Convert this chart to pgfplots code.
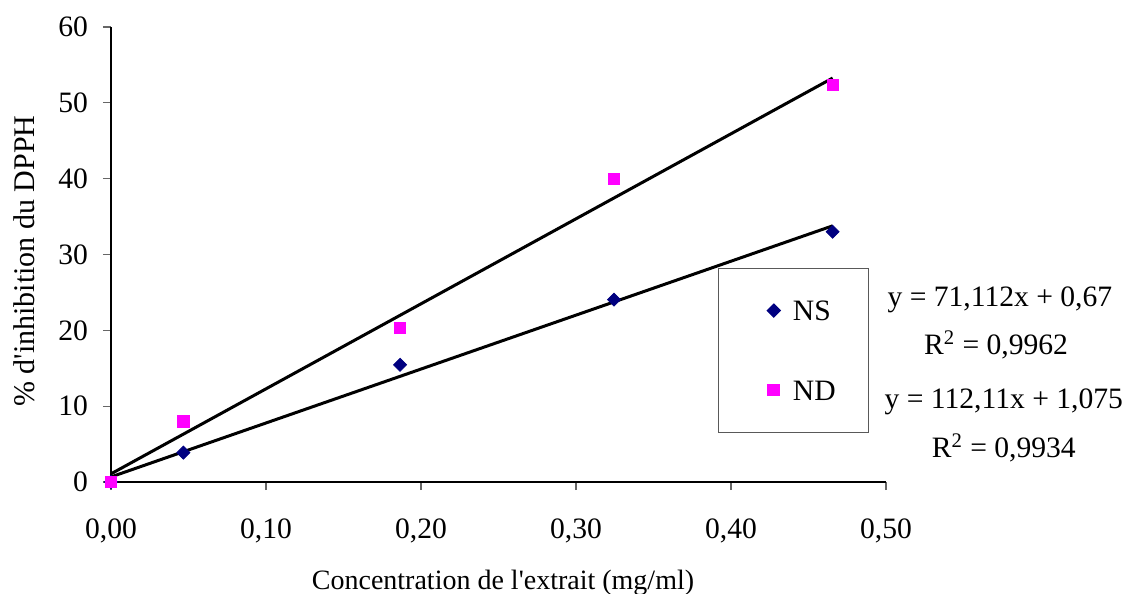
\documentclass[border=0pt]{standalone}
\usepackage{fontspec}
\setmainfont{Liberation Serif}
\usepackage{pgfplots}
\pgfplotsset{compat=1.18}
\definecolor{navyc}{HTML}{000080}
\definecolor{magc}{HTML}{FF00FF}
\newcommand{\fs}{\fontsize{14.8}{17.5}\selectfont}
\begin{document}
\begin{tikzpicture}
\useasboundingbox (-55.5pt,-56pt) rectangle (507.5pt,241pt);
\begin{axis}[
  at={(0,0)}, anchor=south west,
  scale only axis, width=387.5pt, height=227.5pt,
  xmin=0, xmax=0.5, ymin=0, ymax=60,
  clip=false,
  axis lines=left,
  axis line style={-, black, line width=0.6pt},
  tick align=outside, major tick length=4pt,
  tick style={black!60, line width=0.6pt},
  xtick={0,0.1,0.2,0.3,0.4,0.5},
  xticklabels={{0,00},{0,10},{0,20},{0,30},{0,40},{0,50}},
  ytick={0,10,20,30,40,50,60},
  yticklabels={0,10,20,30,40,50,60},
  ticklabel style={font=\fs},
  xticklabel style={anchor=base, yshift=-24pt},
  yticklabel style={anchor=east, xshift=-4pt},
  xlabel={Concentration de l\textquotesingle extrait (mg/ml)},
  xlabel style={at={(axis description cs:0.5,0)}, anchor=base, xshift=2.25pt, yshift=-53.5pt, font=\fontsize{14}{17}\selectfont},
  ylabel={\% d\textquotesingle inhibition du DPPH},
  ylabel style={at={(axis description cs:-0.1123,0.4857)}, anchor=center, font=\fontsize{15}{18}\selectfont},
  myleg/.style={legend image code/.code={\path (-10.8pt,0pt) (9.3pt,0pt); \draw[##1] plot coordinates {(0pt,0pt)};}},
  legend style={at={(0.7832,0.4703)}, anchor=north west, draw=black!65, line width=0.6pt,
    inner xsep=16.5pt, inner ysep=16pt, row sep=29.75pt,
    nodes={inner sep=0pt, text height=10pt, text depth=0pt, font=\fs},
    cells={anchor=west}},
]
\addplot[only marks, mark=square*, mark size=2.3pt, mark options={rotate=45, draw=navyc, fill=navyc}, myleg]
  coordinates {(0,0) (0.0467,3.87) (0.1865,15.46) (0.3245,24.05) (0.4656,33.0)};
\addlegendentry{NS}
\addplot[only marks, mark=square*, mark size=2.85pt, mark options={draw=magc, fill=magc}, myleg]
  coordinates {(0,0) (0.0467,7.97) (0.1865,20.3) (0.3245,40.0) (0.4656,52.4)};
\addlegendentry{ND}
\addplot[black, line width=1.5pt, forget plot] coordinates {(0,0.67) (0.4656,33.78)};
\addplot[black, line width=1.5pt, forget plot] coordinates {(0,1.075) (0.4656,53.27)};
\node[font=\fs] at (axis cs:0.5735,24.0) {y = 71,112x + 0,67};
\node[font=\fs] at (axis cs:0.5710,18.07) {R\textsuperscript{2} = 0,9962};
\node[font=\fs] at (axis cs:0.5760,10.55) {y = 112,11x + 1,075};
\node[font=\fs] at (axis cs:0.5760,4.48) {R\textsuperscript{2} = 0,9934};
\end{axis}
\end{tikzpicture}
\end{document}
